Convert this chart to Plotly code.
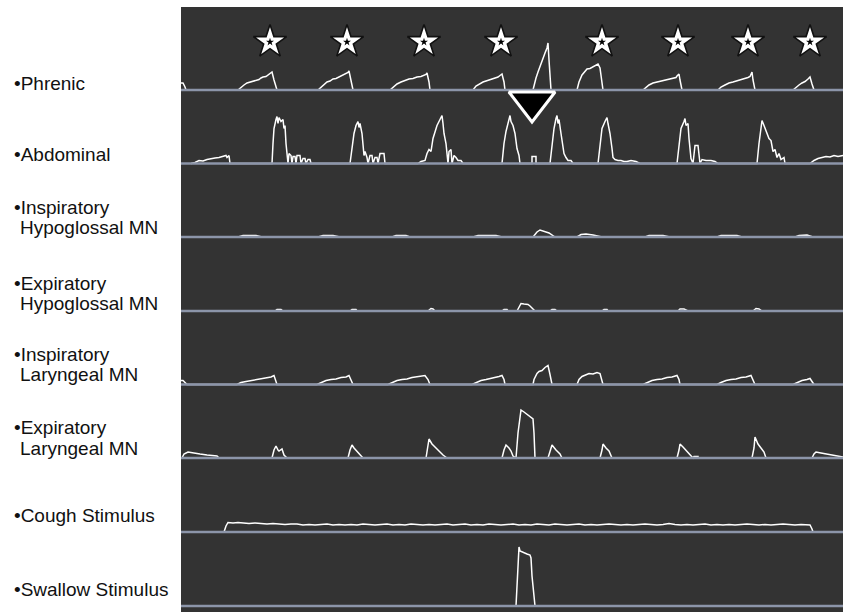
import plotly.graph_objects as go
from plotly.subplots import make_subplots

# ---------------- data (time in arbitrary units, amplitude in arbitrary units) ----------------
T_END = 662

PHRENIC = [(0, 7), (2, 7), (4, 3), (5, 0),
           (57, 0), (60, 3), (63, 5), (66, 7), (69, 8), (72, 9), (75, 10), (78, 10.5), (80, 12), (82, 13),
           (85, 13.5), (87, 15), (89, 16.5), (91, 18), (93, 10), (96, 0),
           (137, 0), (140, 3), (143, 6), (146, 8), (149, 9), (152, 11), (155, 11.5), (158, 13), (161, 14),
           (163, 15.5), (165, 16), (167, 17.5), (168, 19), (170, 10), (172, 0),
           (209, 0), (212, 3), (216, 6), (220, 8), (224, 9.5), (228, 11), (232, 11.5), (236, 13), (240, 13.5),
           (243, 15), (245, 15.5), (246, 17), (248, 8), (249, 0),
           (292, 0), (295, 4), (298, 6), (302, 8), (305, 9), (308, 10), (311, 11.5), (314, 12.5), (317, 13),
           (319, 14.5), (321, 16), (323, 8), (324, 0),
           (352, 0), (353, 5), (355, 12), (357, 18), (359, 24), (361, 29), (362, 33), (364, 37), (366, 42),
           (367, 47), (368, 30), (369, 10), (370, 0),
           (396, 0), (398, 8), (401, 15), (404, 19), (406, 21), (409, 21.5), (412, 23), (414, 24), (417, 26),
           (419, 22), (421, 5), (422, 0),
           (462, 0), (465, 3), (468, 5), (472, 7), (476, 8), (480, 9), (484, 10), (488, 10.5), (492, 12),
           (495, 12.5), (496, 14), (498, 16), (499, 10), (501, 0),
           (537, 0), (540, 3), (544, 5), (548, 7), (552, 8), (556, 9), (560, 10), (564, 11.5), (567, 12.5),
           (569, 13.5), (571, 18), (572, 10), (574, 0),
           (612, 0), (615, 3), (618, 5), (621, 7), (624, 8.5), (627, 11), (629, 13), (631, 6), (633, 0)]

ABDOMINAL = [(10, 0), (14, 1), (18, 3), (22, 2.5), (26, 4), (30, 5), (34, 5.5), (38, 6), (42, 7), (45, 8),
             (46, 6), (48, 8), (49, 0),
             (91, 0), (92, 20), (93, 35), (95, 44), (96, 47), (97, 40), (98, 46), (100, 42), (102, 44),
             (103, 35), (104, 38), (105, 20), (106, 10), (107, 0), (108, 10), (110, 8), (111, 0), (112, 7),
             (114, 7), (115, 0), (116, 8), (119, 8), (120, 0), (122, 5), (124, 5), (125, 0), (127, 4),
             (129, 4), (130, 0),
             (169, 0), (171, 15), (173, 30), (175, 38), (177, 42), (178, 36), (179, 40), (181, 30), (182, 15),
             (183, 8), (184, 12), (186, 6), (187, 0), (189, 8), (191, 8), (192, 0), (194, 6), (196, 6),
             (197, 0), (199, 10), (203, 10), (204, 0),
             (237, 0), (240, 2), (244, 3), (246, 10), (248, 14), (250, 12), (252, 25), (254, 32), (256, 38),
             (258, 42), (260, 46), (261, 48), (262, 40), (263, 30), (265, 20), (266, 8), (267, 0), (268, 12),
             (270, 14), (271, 0), (273, 8), (275, 6), (277, 3), (280, 3), (282, 0),
             (321, 0), (323, 20), (325, 32), (327, 40), (329, 48), (330, 42), (332, 38), (334, 30), (336, 15),
             (338, 8), (339, 0),
             (351, 0), (351, 7), (355, 7), (355, 0),
             (369, 0), (371, 20), (373, 35), (375, 45), (376, 48), (377, 40), (378, 44), (380, 30), (382, 15),
             (383, 10), (385, 6), (387, 3), (390, 3), (392, 0),
             (417, 0), (419, 20), (421, 35), (424, 42), (426, 46), (427, 40), (429, 30), (431, 15), (432, 6),
             (434, 4), (437, 3), (440, 3), (443, 2), (446, 2), (450, 3), (455, 2), (459, 0),
             (496, 0), (498, 20), (500, 35), (503, 42), (504, 45), (505, 38), (507, 40), (508, 25), (509, 15),
             (510, 5), (512, 0), (514, 18), (517, 18), (519, 0), (521, 4), (525, 3), (530, 3), (534, 2),
             (537, 0),
             (576, 0), (578, 20), (580, 35), (581, 43), (583, 38), (585, 32), (586, 30), (588, 25), (590, 23),
             (592, 12), (594, 14), (596, 6), (598, 10), (600, 4), (603, 6), (604, 0),
             (629, 0), (633, 3), (637, 5), (641, 6), (645, 7), (649, 6.5), (653, 8), (657, 7), (662, 8)]

INSP_HYPOGLOSSAL = [(57, 0), (62, 1.5), (75, 1.5), (81, 0),
                    (137, 0), (142, 1.5), (152, 1.5), (159, 0),
                    (211, 0), (215, 1.5), (225, 1.5), (229, 0),
                    (292, 0), (297, 1.5), (315, 1.5), (321, 0),
                    (352, 0), (356, 5), (359, 7), (363, 6), (368, 4), (374, 0),
                    (396, 0), (400, 2.5), (405, 3), (412, 2), (421, 0),
                    (464, 0), (468, 1.5), (482, 1.5), (489, 0),
                    (536, 0), (540, 1.5), (556, 1.5), (561, 0),
                    (614, 0), (618, 1.5), (626, 2), (632, 0)]

EXP_HYPOGLOSSAL = [(94, 0), (96, 1.5), (100, 1.5), (102, 0),
                   (169, 0), (171, 1.5), (175, 1.5), (176, 0),
                   (247, 0), (250, 2.5), (252, 2), (254, 0),
                   (321, 0), (323, 1.5), (326, 1.5), (327, 0),
                   (336, 0), (338, 4), (340, 7.5), (343, 7), (347, 6.5), (349, 5), (351, 3), (354, 0),
                   (369, 0), (371, 1.5), (374, 1.5), (376, 0),
                   (421, 0), (423, 1.5), (426, 1.5), (427, 0),
                   (497, 0), (499, 2), (503, 2), (507, 0),
                   (572, 0), (575, 2.5), (578, 2), (581, 0)]

INSP_LARYNGEAL = [(0, 4), (2, 4), (4, 2), (6, 0),
                  (56, 0), (60, 2), (65, 3), (70, 4), (75, 5), (80, 5.5), (85, 7), (90, 7.5), (93, 9), (95, 4), (96, 0),
                  (136, 0), (140, 2), (145, 4), (150, 5), (155, 5.5), (160, 7), (165, 7.5), (168, 9), (170, 5), (172, 0),
                  (207, 0), (211, 2), (216, 4), (221, 5), (226, 5.5), (231, 7), (236, 7.5), (241, 8), (244, 9), (247, 5), (249, 0),
                  (291, 0), (295, 2), (300, 4), (305, 5), (310, 6), (315, 7.5), (318, 8), (321, 9), (323, 5), (324, 0),
                  (352, 0), (353, 5), (356, 11), (358, 13), (361, 14), (364, 17), (366, 18), (367, 19), (369, 10), (371, 0),
                  (396, 0), (398, 5), (401, 8), (404, 9), (408, 11), (412, 10.5), (416, 12), (419, 11), (421, 5), (422, 0),
                  (462, 0), (466, 2), (471, 4), (476, 5), (481, 5.5), (486, 7), (491, 7.5), (496, 9), (498, 5), (499, 0),
                  (536, 0), (540, 2), (545, 4), (550, 5), (555, 5.5), (560, 7), (565, 7.5), (570, 9), (572, 5), (574, 0),
                  (612, 0), (616, 2), (621, 4), (626, 5), (629, 6), (631, 3), (633, 0)]

EXP_LARYNGEAL = [(1, 0), (3, 4), (7, 6), (12, 5), (19, 4), (26, 3), (32, 2), (36, 2), (38, 0),
                 (91, 0), (93, 8), (95, 12), (97, 8), (98, 7), (101, 9), (103, 3), (106, 0),
                 (167, 0), (169, 8), (171, 13), (173, 10), (176, 7), (179, 4), (182, 0),
                 (245, 0), (247, 12), (248, 19), (251, 14), (255, 10), (259, 5), (262, 3), (266, 0),
                 (321, 0), (323, 8), (325, 13), (328, 10), (330, 7), (332, 2), (334, 0),
                 (335, 0), (337, 25), (340, 48), (343, 46), (347, 43), (349, 41), (352, 39), (353, 25), (354, 0),
                 (367, 0), (369, 8), (371, 13), (375, 8), (379, 4), (381, 0),
                 (419, 0), (421, 8), (422, 14), (425, 10), (428, 7), (431, 0),
                 (496, 0), (498, 8), (499, 14), (502, 11), (505, 8), (509, 4), (511, 1), (512, 0), (513, 1.5),
                 (517, 1.5), (517, 0),
                 (571, 0), (573, 10), (574, 21), (577, 14), (580, 10), (583, 6), (585, 0),
                 (631, 0), (633, 4), (635, 6), (640, 5), (645, 4), (650, 3), (655, 2), (662, 1)]

COUGH = [(43, 0), (45, 6), (47, 9.5), (52, 9), (57, 9.5), (62, 9), (68, 8.5), (74, 9), (80, 8.5), (86, 8),
         (92, 8.5), (98, 8), (104, 7.5), (110, 8), (116, 8), (122, 7), (128, 7.5), (134, 7), (140, 7.5),
         (146, 8), (152, 7), (158, 7.5), (164, 7), (170, 7.5), (176, 7), (182, 8), (188, 7.5), (194, 7),
         (200, 7.5), (206, 8), (212, 7), (218, 7.5), (224, 7), (230, 8), (236, 7.5), (242, 7), (248, 7.5),
         (254, 7), (260, 7.5), (266, 8), (272, 7), (278, 7.5), (284, 8), (290, 7), (296, 7.5), (302, 7),
         (308, 8), (314, 7.5), (320, 7), (326, 7.5), (332, 8), (338, 7), (344, 7.5), (350, 7), (356, 8),
         (362, 7.5), (368, 7), (374, 8), (380, 7.5), (386, 7), (392, 7.5), (398, 8), (404, 7), (410, 7.5),
         (416, 7), (422, 7.5), (428, 8), (434, 7.5), (440, 7), (446, 7.5), (452, 7), (458, 7.5), (464, 8),
         (470, 7.5), (476, 7), (482, 7.5), (488, 8.5), (494, 7.5), (500, 7), (506, 7.5), (512, 7), (518, 7.5),
         (524, 8), (530, 7), (536, 7.5), (542, 7), (548, 7.5), (554, 7), (560, 7.5), (566, 8), (572, 7.5),
         (578, 7), (584, 7.5), (590, 7), (596, 7.5), (602, 8), (608, 7.5), (614, 7), (620, 7.5), (626, 7.5),
         (629, 7), (631, 3), (632, 0)]

SWALLOW = [(335, 0), (337, 40), (338, 59), (339, 55), (341, 54), (344, 53), (346, 52), (349, 51), (350, 48),
           (351, 30), (353, 10), (354, 0)]

CHANNEL_DATA = [PHRENIC, ABDOMINAL, INSP_HYPOGLOSSAL, EXP_HYPOGLOSSAL,
                INSP_LARYNGEAL, EXP_LARYNGEAL, COUGH, SWALLOW]

CHANNEL_LABELS = [["•Phrenic"], ["•Abdominal"],
                  ["•Inspiratory", "Hypoglossal MN"], ["•Expiratory", "Hypoglossal MN"],
                  ["•Inspiratory", "Laryngeal MN"], ["•Expiratory", "Laryngeal MN"],
                  ["•Cough Stimulus"], ["•Swallow Stimulus"]]

COUGH_MARK_T = [89, 166, 243, 320, 421, 497, 567, 629]   # stars: cough events
SWALLOW_MARK_T = [351]                                    # triangle: swallow event

# ---------------- layout / style ----------------
W, H = 843, 612
PANEL_LEFT, PANEL_TOP = 181, 7
BASELINE_PX = [90, 163.5, 237, 311, 384.5, 458, 532, 606]
PAD = 3
BG = "#333333"
BASE_COLOR = "#8c95a9"
FONT = "Liberation Sans, Arial, sans-serif"
FS = 19
# (x px, y px of cap centre) for each label line
LABEL_POS = [[(12, 83.5)], [(12, 154)], [(12, 207), (18, 227)], [(12, 283), (18, 303.5)],
             [(12, 354.5), (18, 374.5)], [(12, 427), (18, 448)], [(12, 515.5)], [(12, 589)]]

plot_h = H - PANEL_TOP
plot_w = W - PANEL_LEFT

fig = make_subplots(rows=8, cols=1, shared_xaxes=True, vertical_spacing=0)

for i, data in enumerate(CHANNEL_DATA):
    r = i + 1
    t = [p[0] for p in data]
    v = [p[1] for p in data]
    fig.add_trace(go.Scatter(x=t, y=v, mode="lines", line=dict(color="white", width=1.5),
                             hoverinfo="skip", showlegend=False), row=r, col=1)
    fig.add_trace(go.Scatter(x=[0, T_END], y=[0, 0], mode="lines", line=dict(color=BASE_COLOR, width=2.4),
                             hoverinfo="skip", showlegend=False), row=r, col=1)
    bottom_px = BASELINE_PX[i] + PAD
    top_px = PANEL_TOP if i == 0 else BASELINE_PX[i - 1] + PAD
    ydom = [(H - bottom_px) / plot_h, (H - top_px) / plot_h]
    yname = "yaxis" if r == 1 else f"yaxis{r}"
    xname = "xaxis" if r == 1 else f"xaxis{r}"
    fig.layout[yname].update(domain=ydom, range=[-PAD, bottom_px - top_px - PAD], visible=False,
                             fixedrange=True)
    fig.layout[xname].update(range=[0, T_END], visible=False, fixedrange=True)

# star markers on the phrenic row
STAR_LEVEL = 48
fig.add_trace(go.Scatter(x=COUGH_MARK_T, y=[STAR_LEVEL] * len(COUGH_MARK_T), mode="markers",
                         marker=dict(symbol="star", size=25, color="white", line=dict(color="#111111", width=1.6)),
                         cliponaxis=False, hoverinfo="skip", showlegend=False), row=1, col=1)
fig.add_trace(go.Scatter(x=COUGH_MARK_T, y=[STAR_LEVEL] * len(COUGH_MARK_T), mode="markers",
                         marker=dict(symbol="star", size=6, color="black", line=dict(width=0)),
                         cliponaxis=False, hoverinfo="skip", showlegend=False), row=1, col=1)

# triangle marker on the abdominal row
TRI_LEVEL = 61.5
fig.add_trace(go.Scatter(x=SWALLOW_MARK_T, y=[TRI_LEVEL] * len(SWALLOW_MARK_T), mode="markers",
                         marker=dict(symbol="triangle-down", size=40, color="black",
                                     line=dict(color="white", width=3)),
                         cliponaxis=False, hoverinfo="skip", showlegend=False), row=2, col=1)

annotations = []
for lines, poss in zip(CHANNEL_LABELS, LABEL_POS):
    for txt, (xp, yp) in zip(lines, poss):
        annotations.append(dict(text=txt, xref="paper", yref="paper",
                                x=(xp - PANEL_LEFT) / plot_w, y=(H - yp) / plot_h,
                                xanchor="left", yanchor="middle", showarrow=False,
                                font=dict(family=FONT, size=FS, color="#111111")))

fig.update_layout(
    width=W, height=H,
    margin=dict(l=PANEL_LEFT, r=0, t=PANEL_TOP, b=0),
    paper_bgcolor="white", plot_bgcolor=BG,
    shapes=[dict(type="rect", xref="paper", yref="paper", x0=0, x1=1, y0=0, y1=1,
                 fillcolor=BG, line=dict(width=0), layer="below")],
    annotations=annotations,
    showlegend=False,
)

fig.write_html("out.html", config={"displayModeBar": False},
               post_script="document.body.style.margin='0px';document.body.style.overflow='hidden';")
